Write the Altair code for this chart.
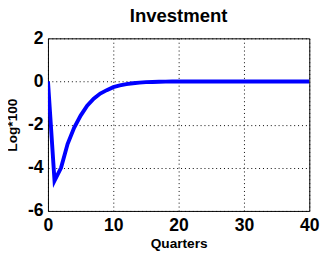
import altair as alt
import pandas as pd

quarters = list(range(0, 41))
investment = [0.0, -4.6, -4.0, -2.9, -2.15, -1.58, -1.12, -0.8, -0.56, -0.4, -0.26,
              -0.18, -0.12, -0.08, -0.05, -0.03, -0.02, -0.01, -0.005, 0.0, 0.0,
              0.0, 0.0, 0.0, 0.0, 0.0, 0.0, 0.0, 0.0, 0.0, 0.0,
              0.0, 0.0, 0.0, 0.0, 0.0, 0.0, 0.0, 0.0, 0.0, 0.0]
x_ticks = [0, 10, 20, 30, 40]
y_ticks = [-6, -4, -2, 0, 2]

df = pd.DataFrame({"q": quarters, "v": investment})

FONT = "Liberation Sans"

chart = alt.Chart(df).mark_line(color="#0000FF", strokeWidth=4, clip=True).encode(
    x=alt.X("q:Q", scale=alt.Scale(domain=[0, 40], nice=False),
            axis=alt.Axis(values=x_ticks, title="Quarters", grid=True, ticks=False,
                          domain=False, labelFlush=False, labelOverlap=False,
                          labelExpr="'' + datum.value",
                          labelPadding=6, labelFontSize=18, labelFontWeight="bold",
                          titleFontSize=14, titleFontWeight="bold", titlePadding=3,
                          gridColor="black", gridDash=[1, 3], gridOpacity=1,
                          labelColor="black", titleColor="black")),
    y=alt.Y("v:Q", scale=alt.Scale(domain=[-6, 2], nice=False),
            axis=alt.Axis(values=y_ticks, title="Log*100", grid=True, ticks=False,
                          domain=False, labelFlush=False, labelOverlap=False,
                          labelExpr="'' + datum.value",
                          labelPadding=5, labelFontSize=18, labelFontWeight="bold",
                          titleFontSize=14, titleFontWeight="bold", titlePadding=8,
                          gridColor="black", gridDash=[1, 3], gridOpacity=1,
                          labelColor="black", titleColor="black")),
).properties(
    width=268, height=177,
    title=alt.Title("Investment", fontSize=19, fontWeight="bold", offset=4, color="black"),
    autosize=alt.AutoSizeParams(type="none"),
    padding={"left": 41, "top": 28, "right": 12, "bottom": 40},
).configure(font=FONT).configure_view(stroke="black", strokeWidth=1)

chart.save("out.html", embed_options={"renderer": "svg", "actions": False})
